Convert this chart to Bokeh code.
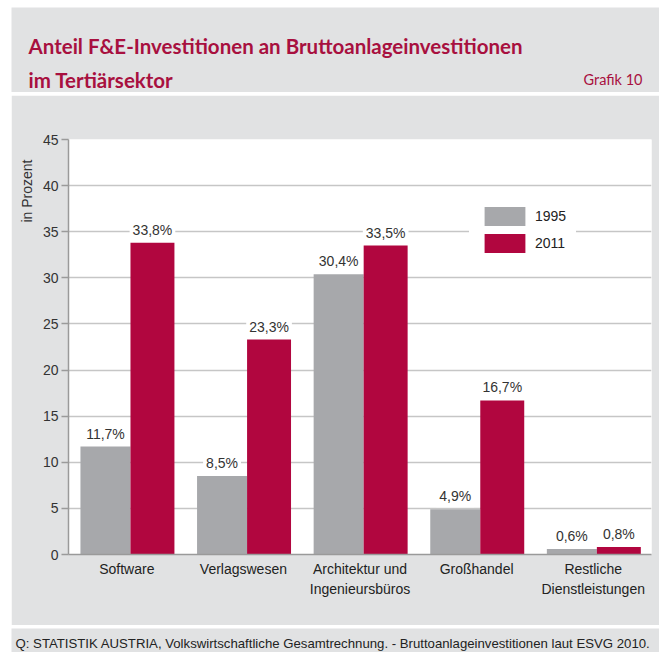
from bokeh.plotting import figure
from bokeh.models import (ColumnDataSource, Range1d, FactorRange, FixedTicker,
                          Label, Legend, LegendItem, Title)
from bokeh.core.properties import value
from bokeh.transform import dodge
from bokeh.layouts import column
from bokeh.embed import file_html
from bokeh.resources import INLINE

# ---------------- data ----------------
categories = ["Software", "Verlagswesen", "Architektur und\nIngenieursbüros",
              "Großhandel", "Restliche\nDienstleistungen"]
share_1995 = [11.7, 8.5, 30.4, 4.9, 0.6]
share_2011 = [33.8, 23.3, 33.5, 16.7, 0.8]
series_names = ["1995", "2011"]
y_ticks = [0, 5, 10, 15, 20, 25, 30, 35, 40, 45]

title_lines = ["Anteil F&E-Investitionen an Bruttoanlageinvestitionen", "im Tertiärsektor"]
chart_tag = "Grafik 10"
y_label = "in Prozent"
source_note = "Q: STATISTIK AUSTRIA, Volkswirtschaftliche Gesamtrechnung. - Bruttoanlageinvestitionen laut ESVG 2010."

# ---------------- style ----------------
BG = "#e1e2e3"
RED = "#b1063f"
GRAY_BAR = "#a7a8ab"
TITLE_RED = "#a8103f"
TXT = "#222222"
FONT = "Liberation Sans"
TFONT = "Lato"
W = 648


def fmt(v):
    return f"{v:.1f}".replace(".", ",") + "%"


def blank_fig(h):
    f = figure(width=W, height=h, x_range=Range1d(0, W), y_range=Range1d(0, h),
               output_backend="svg", toolbar_location=None, title=None,
               min_border=0, min_border_left=0, min_border_right=0,
               min_border_top=0, min_border_bottom=0,
               x_axis_location=None, y_axis_location=None)
    f.frame_align = False
    f.grid.visible = False
    f.outline_line_color = None
    f.background_fill_color = BG
    f.border_fill_color = BG
    return f


# ---------------- header ----------------
hdr = blank_fig(85)
hdr.add_layout(Label(x=17, y=47, text=title_lines[0], text_font=TFONT, text_font_style="bold",
                     text_font_size="20.5px", text_color=TITLE_RED, text_baseline="alphabetic"))
hdr.add_layout(Label(x=17, y=13, text=title_lines[1], text_font=TFONT, text_font_style="bold",
                     text_font_size="20.5px", text_color=TITLE_RED, text_baseline="alphabetic"))
hdr.add_layout(Label(x=631, y=13, text=chart_tag, text_font=TFONT,
                     text_font_size="14.5px", text_color=TITLE_RED, text_align="right",
                     text_baseline="alphabetic"))

# ---------------- chart ----------------
p = figure(width=W, height=530, x_range=FactorRange(*categories), y_range=Range1d(0, 45),
           output_backend="svg", toolbar_location=None, title=None,
           min_border_left=57, min_border_right=8, min_border_top=44, min_border_bottom=71)
p.frame_align = False
p.background_fill_color = "white"
p.border_fill_color = BG
p.outline_line_color = None

src = ColumnDataSource(dict(cat=categories, v95=share_1995, v11=share_2011,
                            t95=[fmt(v) for v in share_1995], t11=[fmt(v) for v in share_2011]))

OFF95, OFF11 = -0.183, 0.220
r1 = p.vbar(x=dodge("cat", OFF95, range=p.x_range), top="v95", width=0.429, source=src,
            fill_color=GRAY_BAR, line_color=None)
r2 = p.vbar(x=dodge("cat", OFF11, range=p.x_range), top="v11", width=0.377, source=src,
            fill_color=RED, line_color=None)

for off, col in ((OFF95, "95"), (OFF11, "11")):
    p.text(x=dodge("cat", off, range=p.x_range), y="v" + col, text="t" + col, source=src,
           text_align="center", text_baseline="middle", y_offset=-13,
           text_font=value(FONT), text_font_size="14px", text_color="#333333",
           background_fill_color="white", padding=3)

# axes
p.yaxis.ticker = FixedTicker(ticks=y_ticks)
p.yaxis.major_label_text_font = FONT
p.yaxis.major_label_text_font_size = "14px"
p.yaxis.major_label_text_color = "#333333"
p.yaxis.axis_line_color = "#9a9a9a"
p.yaxis.axis_line_width = 1.5
p.yaxis.major_tick_line_color = "#9a9a9a"
p.yaxis.major_tick_line_width = 1.5
p.yaxis.major_tick_out = 7
p.yaxis.major_tick_in = 0
p.yaxis.minor_tick_out = 0
p.yaxis.minor_tick_in = 0
p.yaxis.major_label_standoff = 3

p.xaxis.axis_line_color = "#9a9a9a"
p.xaxis.axis_line_width = 1.5
p.xaxis.major_tick_line_color = None
p.xaxis.minor_tick_line_color = None
p.xaxis.major_label_standoff = 0
p.xaxis.major_label_text_font = FONT
p.xaxis.major_label_text_font_size = "14px"
p.xaxis.major_label_text_color = TXT
p.xaxis.major_label_text_line_height = 1.3

p.xgrid.grid_line_color = None
p.ygrid.ticker = FixedTicker(ticks=y_ticks)
p.ygrid.grid_line_color = "#c6c6c6"
p.ygrid.grid_line_width = 1.5

p.add_layout(Title(text=y_label, align="right", offset=20, text_font=FONT,
                   text_font_size="14px", text_font_style="normal",
                   text_color="#333333"), "left")

legend = Legend(items=[LegendItem(label=series_names[0], renderers=[r1]),
                       LegendItem(label=series_names[1], renderers=[r2])],
                location=(401, 289), orientation="vertical",
                glyph_width=51, glyph_height=24, label_standoff=5, spacing=3,
                padding=9, margin=0, border_line_color="white", border_line_width=1,
                background_fill_color="white", background_fill_alpha=1.0,
                label_text_font=FONT, label_text_font_size="14px", label_text_color=TXT)
p.add_layout(legend)

# ---------------- footer ----------------
ftr = blank_fig(24)
ftr.add_layout(Label(x=4, y=9, text=source_note, text_font=FONT, text_font_size="13.2px",
                     text_color=TXT, text_baseline="alphabetic"))

layout = column(hdr, p, ftr, spacing=3, margin=(7, 0, 0, 11))

open("out.html", "w").write(file_html(layout, INLINE))
